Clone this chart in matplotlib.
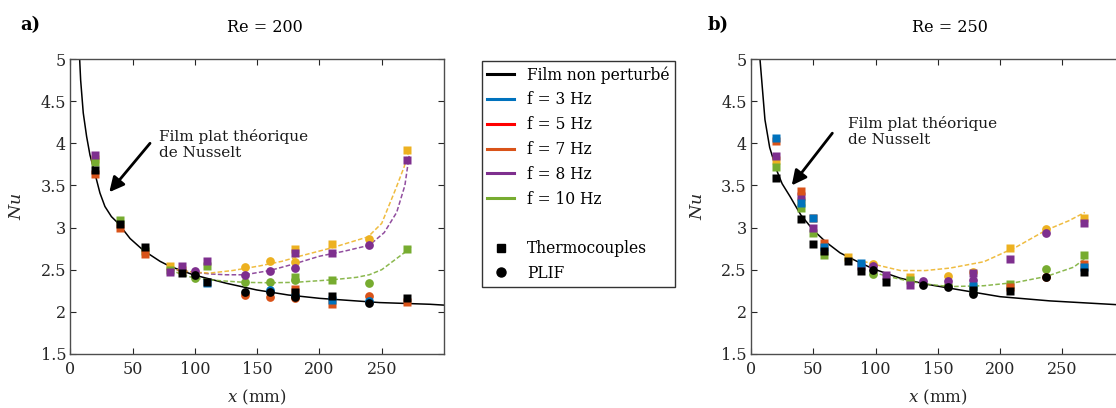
import matplotlib
matplotlib.use("Agg")
import matplotlib.pyplot as plt
from matplotlib.lines import Line2D

# ---------------- colours ----------------
C_F3 = "#0072BD"
C_F5 = "#D95319"
C_F7 = "#EDB120"
C_F8 = "#7E2F8E"
C_F10 = "#77AC30"
C_LEG_F5 = "#FF0000"
C_LEG_F7 = "#D95319"

# ---------------- panel a (Re = 200) ----------------
A_THEO_X = [7.5, 8.3, 10.4, 13.1, 15.8, 19.8, 23.8, 27.8, 33, 38.5, 48, 58.6, 72, 80, 98.7, 125, 149.6, 175, 200.4, 248.5, 288.7, 300]
A_THEO_Y = [5.0, 4.75, 4.36, 4.08, 3.86, 3.64, 3.41, 3.25, 3.13, 3.05, 2.87, 2.73, 2.60, 2.54, 2.44, 2.34, 2.26, 2.20, 2.16, 2.11, 2.09, 2.08]

A_FIT7_X = [80, 88, 100, 112, 130, 152, 170, 184, 210, 239, 250, 261, 268, 272]
A_FIT7_Y = [2.52, 2.49, 2.47, 2.46, 2.49, 2.545, 2.60, 2.66, 2.76, 2.89, 3.05, 3.45, 3.72, 3.92]
A_FIT8_X = [80, 88, 100, 112, 125, 140, 160, 180, 200, 220, 240, 252, 262, 268.6, 272]
A_FIT8_Y = [2.50, 2.49, 2.47, 2.45, 2.44, 2.44, 2.49, 2.57, 2.66, 2.72, 2.79, 2.94, 3.18, 3.50, 3.85]
A_FIT10_X = [80, 90, 100, 120, 140, 160, 180, 210, 230, 240, 250, 259, 268, 274]
A_FIT10_Y = [2.50, 2.44, 2.40, 2.37, 2.35, 2.345, 2.35, 2.38, 2.41, 2.44, 2.50, 2.60, 2.70, 2.78]

# thermocouples (squares)
A_TC_F3_X = [110, 210]
A_TC_F3_Y = [2.34, 2.14]
A_TC_F5_X = [20, 40, 60, 180, 210, 270]
A_TC_F5_Y = [3.64, 3.00, 2.69, 2.27, 2.09, 2.12]
A_TC_F7_X = [20, 80, 90, 180, 210, 270]
A_TC_F7_Y = [3.81, 2.55, 2.50, 2.74, 2.80, 3.92]
A_TC_F8_X = [20, 80, 90, 110, 180, 210, 270]
A_TC_F8_Y = [3.86, 2.47, 2.55, 2.60, 2.70, 2.70, 3.80]
A_TC_F10_X = [20, 40, 60, 80, 110, 180, 210, 270]
A_TC_F10_Y = [3.78, 3.09, 2.72, 2.50, 2.55, 2.41, 2.38, 2.74]
A_TC_REF_X = [20, 40, 60, 90, 110, 180, 210, 270]
A_TC_REF_Y = [3.68, 3.04, 2.77, 2.46, 2.36, 2.23, 2.19, 2.17]
# PLIF (circles)
A_PL_F3_X = [160, 180, 240]
A_PL_F3_Y = [2.26, 2.20, 2.13]
A_PL_F5_X = [140, 160, 180, 240]
A_PL_F5_Y = [2.20, 2.18, 2.17, 2.19]
A_PL_F7_X = [140, 160, 180, 240]
A_PL_F7_Y = [2.53, 2.60, 2.59, 2.87]
A_PL_F8_X = [100, 140, 160, 180, 240]
A_PL_F8_Y = [2.49, 2.44, 2.49, 2.52, 2.79]
A_PL_F10_X = [100, 140, 160, 180, 240]
A_PL_F10_Y = [2.40, 2.35, 2.36, 2.38, 2.34]
A_PL_REF_X = [100, 140, 160, 180, 240]
A_PL_REF_Y = [2.44, 2.24, 2.24, 2.18, 2.10]

# ---------------- panel b (Re = 250) ----------------
B_THEO_X = [7.2, 11.2, 15, 20.6, 25, 31.3, 40, 50, 60, 71.5, 85, 98.2, 119.7, 140, 159.8, 200, 240, 300]
B_THEO_Y = [5.0, 4.28, 3.95, 3.68, 3.52, 3.37, 3.15, 2.97, 2.83, 2.70, 2.60, 2.51, 2.40, 2.33, 2.28, 2.18, 2.13, 2.08]

B_FIT7_X = [90, 100, 120, 140, 160, 187, 213, 237, 255, 268]
B_FIT7_Y = [2.60, 2.56, 2.49, 2.49, 2.52, 2.595, 2.77, 2.97, 3.08, 3.18]
B_FIT10_X = [98, 110, 125, 140, 160, 187, 213, 237, 259, 268]
B_FIT10_Y = [2.47, 2.42, 2.37, 2.33, 2.30, 2.31, 2.35, 2.42, 2.53, 2.63]

B_TC_F3_X = [20, 40, 50, 59, 88, 178, 267]
B_TC_F3_Y = [4.06, 3.29, 3.11, 2.77, 2.58, 2.31, 2.53]
B_TC_F5_X = [20, 40, 50, 59, 208, 267]
B_TC_F5_Y = [4.03, 3.43, 3.11, 2.82, 2.29, 2.57]
B_TC_F7_X = [20, 40, 78, 128, 208, 267]
B_TC_F7_Y = [3.80, 3.32, 2.65, 2.41, 2.76, 3.11]
B_TC_F8_X = [20, 40, 50, 88, 108, 128, 178, 208, 267]
B_TC_F8_Y = [3.85, 3.37, 2.99, 2.54, 2.44, 2.32, 2.46, 2.63, 3.05]
B_TC_F10_X = [20, 40, 50, 59, 128, 178, 208, 267]
B_TC_F10_Y = [3.72, 3.23, 2.93, 2.67, 2.38, 2.30, 2.33, 2.67]
B_TC_REF_X = [20, 40, 50, 59, 78, 88, 108, 178, 208, 267]
B_TC_REF_Y = [3.59, 3.10, 2.81, 2.72, 2.60, 2.49, 2.36, 2.26, 2.25, 2.47]

B_PL_F5_X = [237]
B_PL_F5_Y = [2.41]
B_PL_F7_X = [98, 158, 178, 237]
B_PL_F7_Y = [2.57, 2.43, 2.47, 2.98]
B_PL_F8_X = [98, 138, 158, 178, 237]
B_PL_F8_Y = [2.55, 2.37, 2.37, 2.38, 2.93]
B_PL_F10_X = [98, 158, 237]
B_PL_F10_Y = [2.45, 2.32, 2.51]
B_PL_REF_X = [98, 138, 158, 178, 237]
B_PL_REF_Y = [2.50, 2.32, 2.29, 2.21, 2.41]

X_TICKS = [0, 50, 100, 150, 200, 250]
Y_TICKS = [1.5, 2, 2.5, 3, 3.5, 4, 4.5, 5]
Y_TICK_LABELS = ["1.5", "2", "2.5", "3", "3.5", "4", "4.5", "5"]

# ---------------- figure ----------------
plt.rcParams["font.family"] = ["DejaVu Serif"]
plt.rcParams["mathtext.fontset"] = "dejavuserif"
W, H = 1116, 408
fig = plt.figure(figsize=(W / 100, H / 100), dpi=100)

AX_W = 373.7 / W
AX_H = 295 / H
AX_B = (H - 354) / H
axA = fig.add_axes([70.3 / W, AX_B, AX_W, AX_H])
axB = fig.add_axes([751 / W, AX_B, AX_W, AX_H])

SPINE = "#262626"
MS_SQ = 5.2
MS_CI = 6.3


def style(ax):
    ax.set_xlim(0, 300)
    ax.set_ylim(1.5, 5)
    ax.set_xticks(X_TICKS)
    ax.set_yticks(Y_TICKS)
    ax.set_yticklabels(Y_TICK_LABELS)
    ax.tick_params(direction="in", top=True, right=True, length=4, width=0.8,
                   labelsize=11.5, colors=SPINE)
    ax.tick_params(axis="x", pad=5)
    ax.tick_params(axis="y", pad=3)
    for s in ax.spines.values():
        s.set_color("#4d4d4d")
        s.set_linewidth(1.0)
    ax.set_xlabel("$x$ (mm)", fontsize=12, labelpad=7, color=SPINE)
    ax.set_ylabel("$Nu$", fontsize=12.5, labelpad=11, color=SPINE)


def fits(ax, pairs):
    for xs, ys, c in pairs:
        ax.plot(xs, ys, ls=(0, (3, 1.5)), lw=1.1, color=c, alpha=0.85, zorder=2)


def squares(ax, pairs):
    for xs, ys, c in pairs:
        ax.plot(xs, ys, ls="none", marker="s", ms=MS_SQ, mec="none", mfc=c, zorder=3)


def circles(ax, pairs):
    for xs, ys, c in pairs:
        ax.plot(xs, ys, ls="none", marker="o", ms=MS_CI, mec="none", mfc=c, zorder=3)


# panel a
axA.plot(A_THEO_X, A_THEO_Y, color="black", lw=1.1, zorder=2)
fits(axA, [(A_FIT10_X, A_FIT10_Y, C_F10), (A_FIT8_X, A_FIT8_Y, C_F8), (A_FIT7_X, A_FIT7_Y, C_F7)])
circles(axA, [(A_PL_F7_X, A_PL_F7_Y, C_F7), (A_PL_F10_X, A_PL_F10_Y, C_F10), (A_PL_F8_X, A_PL_F8_Y, C_F8),
              (A_PL_F5_X, A_PL_F5_Y, C_F5), (A_PL_F3_X, A_PL_F3_Y, C_F3), (A_PL_REF_X, A_PL_REF_Y, "black")])
squares(axA, [(A_TC_F7_X, A_TC_F7_Y, C_F7), (A_TC_F10_X, A_TC_F10_Y, C_F10), (A_TC_F8_X, A_TC_F8_Y, C_F8),
              (A_TC_F5_X, A_TC_F5_Y, C_F5), (A_TC_F3_X, A_TC_F3_Y, C_F3), (A_TC_REF_X, A_TC_REF_Y, "black")])
style(axA)
axA.annotate("", xy=(31.3, 3.42), xytext=(64, 4.0),
             arrowprops=dict(arrowstyle="-|>", lw=2.0, color="black", mutation_scale=22, shrinkA=0, shrinkB=0))
axA.text(71.5, 3.99, "Film plat théorique\nde Nusselt", fontsize=11, ha="left", va="center",
         linespacing=1.2, color="#1a1a1a")

# panel b
axB.plot(B_THEO_X, B_THEO_Y, color="black", lw=1.1, zorder=2)
fits(axB, [(B_FIT10_X, B_FIT10_Y, C_F10), (B_FIT7_X, B_FIT7_Y, C_F7)])
circles(axB, [(B_PL_F7_X, B_PL_F7_Y, C_F7), (B_PL_F10_X, B_PL_F10_Y, C_F10), (B_PL_F8_X, B_PL_F8_Y, C_F8),
              (B_PL_F5_X, B_PL_F5_Y, C_F5), (B_PL_REF_X, B_PL_REF_Y, "black")])
squares(axB, [(B_TC_F7_X, B_TC_F7_Y, C_F7), (B_TC_F10_X, B_TC_F10_Y, C_F10), (B_TC_F8_X, B_TC_F8_Y, C_F8),
              (B_TC_F5_X, B_TC_F5_Y, C_F5), (B_TC_F3_X, B_TC_F3_Y, C_F3), (B_TC_REF_X, B_TC_REF_Y, "black")])
style(axB)
axB.annotate("", xy=(32.7, 3.50), xytext=(65.3, 4.12),
             arrowprops=dict(arrowstyle="-|>", lw=2.0, color="black", mutation_scale=22, shrinkA=0, shrinkB=0))
axB.text(78, 4.14, "Film plat théorique\nde Nusselt", fontsize=11, ha="left", va="center",
         linespacing=1.2, color="#1a1a1a")

# titles
fig.text(30 / W, 1 - 25 / H, "a)", fontsize=13, fontweight="bold", ha="center", va="center")
fig.text(265 / W, 1 - 28 / H, "Re = 200", fontsize=11.5, ha="center", va="center")
fig.text(718 / W, 1 - 25 / H, "b)", fontsize=13, fontweight="bold", ha="center", va="center")
fig.text(950 / W, 1 - 28 / H, "Re = 250", fontsize=11.5, ha="center", va="center")

# legend
LEG_LABELS = ["Film non perturbé", "f = 3 Hz", "f = 5 Hz", "f = 7 Hz", "f = 8 Hz", "f = 10 Hz", " ",
              "Thermocouples", "PLIF"]
LEG_COLORS = ["black", C_F3, C_LEG_F5, C_LEG_F7, C_F8, C_F10]
handles = [Line2D([], [], color=c, lw=2.2) for c in LEG_COLORS]
handles.append(Line2D([], [], ls="none"))
handles.append(Line2D([], [], ls="none", marker="s", ms=6, mfc="black", mec="black"))
handles.append(Line2D([], [], ls="none", marker="o", ms=6.5, mfc="black", mec="black"))
leg = fig.legend(handles, LEG_LABELS, loc="upper left", bbox_to_anchor=(481.7 / W, 1 - 60.7 / H),
                 frameon=True, fancybox=False, edgecolor="#333333", framealpha=1,
                 fontsize=11.2, handlelength=1.75, handletextpad=0.8, labelspacing=0.5,
                 borderpad=0.35, borderaxespad=0)
leg.get_frame().set_linewidth(1.0)

fig.savefig("out.png", dpi=100)
